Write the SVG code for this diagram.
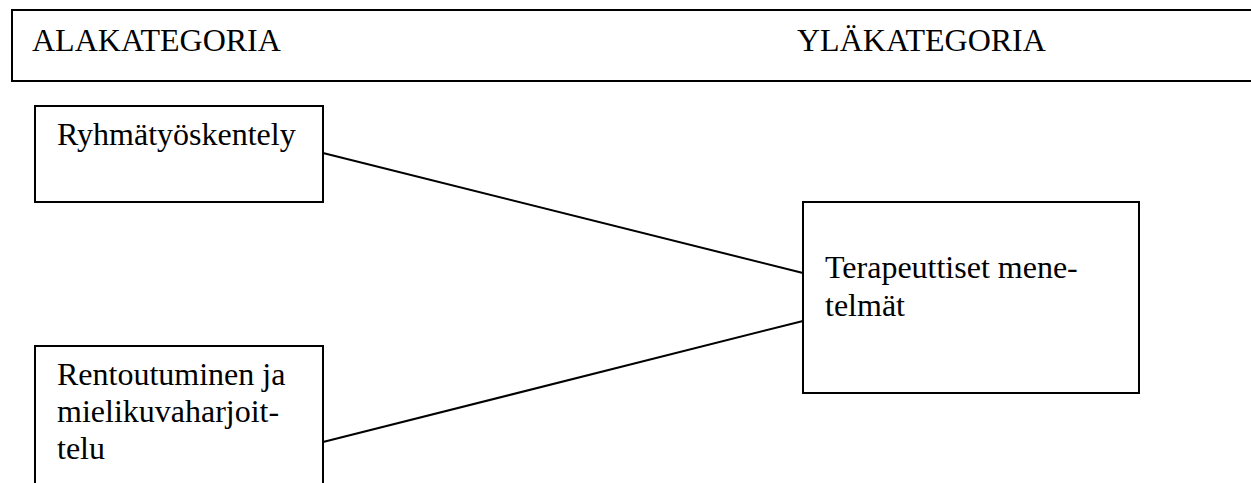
<svg xmlns="http://www.w3.org/2000/svg" width="1251" height="483" viewBox="0 0 1251 483">
  <style>
    .box { fill: #ffffff; stroke: #000000; stroke-width: 2; }
    .label { font-family: "Liberation Serif", "Times New Roman", serif; font-size: 32px; fill: #000000; }
    .link { stroke: #000000; stroke-width: 2; fill: none; }
  </style>
  <rect width="1251" height="483" fill="#ffffff"/>

  <!-- header band with the two column titles -->
  <g id="header">
    <rect class="box" x="12" y="10" width="1260" height="71"/>
    <text class="label" x="32" y="51">ALAKATEGORIA</text>
    <text class="label" x="797" y="51">YLÄKATEGORIA</text>
  </g>

  <!-- connectors -->
  <g id="connectors">
    <line class="link" x1="323" y1="153" x2="803" y2="273"/>
    <line class="link" x1="323" y1="442" x2="803" y2="321"/>
  </g>

  <g id="node-ryhmatyoskentely">
    <rect class="box" x="35" y="106" width="288" height="96"/>
    <text class="label" x="57" y="145">Ryhmätyöskentely</text>
  </g>

  <g id="node-rentoutuminen">
    <rect class="box" x="35" y="346" width="288" height="150"/>
    <text class="label" x="57" y="385">Rentoutuminen ja</text>
    <text class="label" x="57" y="422">mielikuvaharjoit-</text>
    <text class="label" x="57" y="459">telu</text>
  </g>

  <g id="node-terapeuttiset">
    <rect class="box" x="803" y="202" width="336" height="191"/>
    <text class="label" x="825" y="278">Terapeuttiset mene-</text>
    <text class="label" x="825" y="316">telmät</text>
  </g>
</svg>
